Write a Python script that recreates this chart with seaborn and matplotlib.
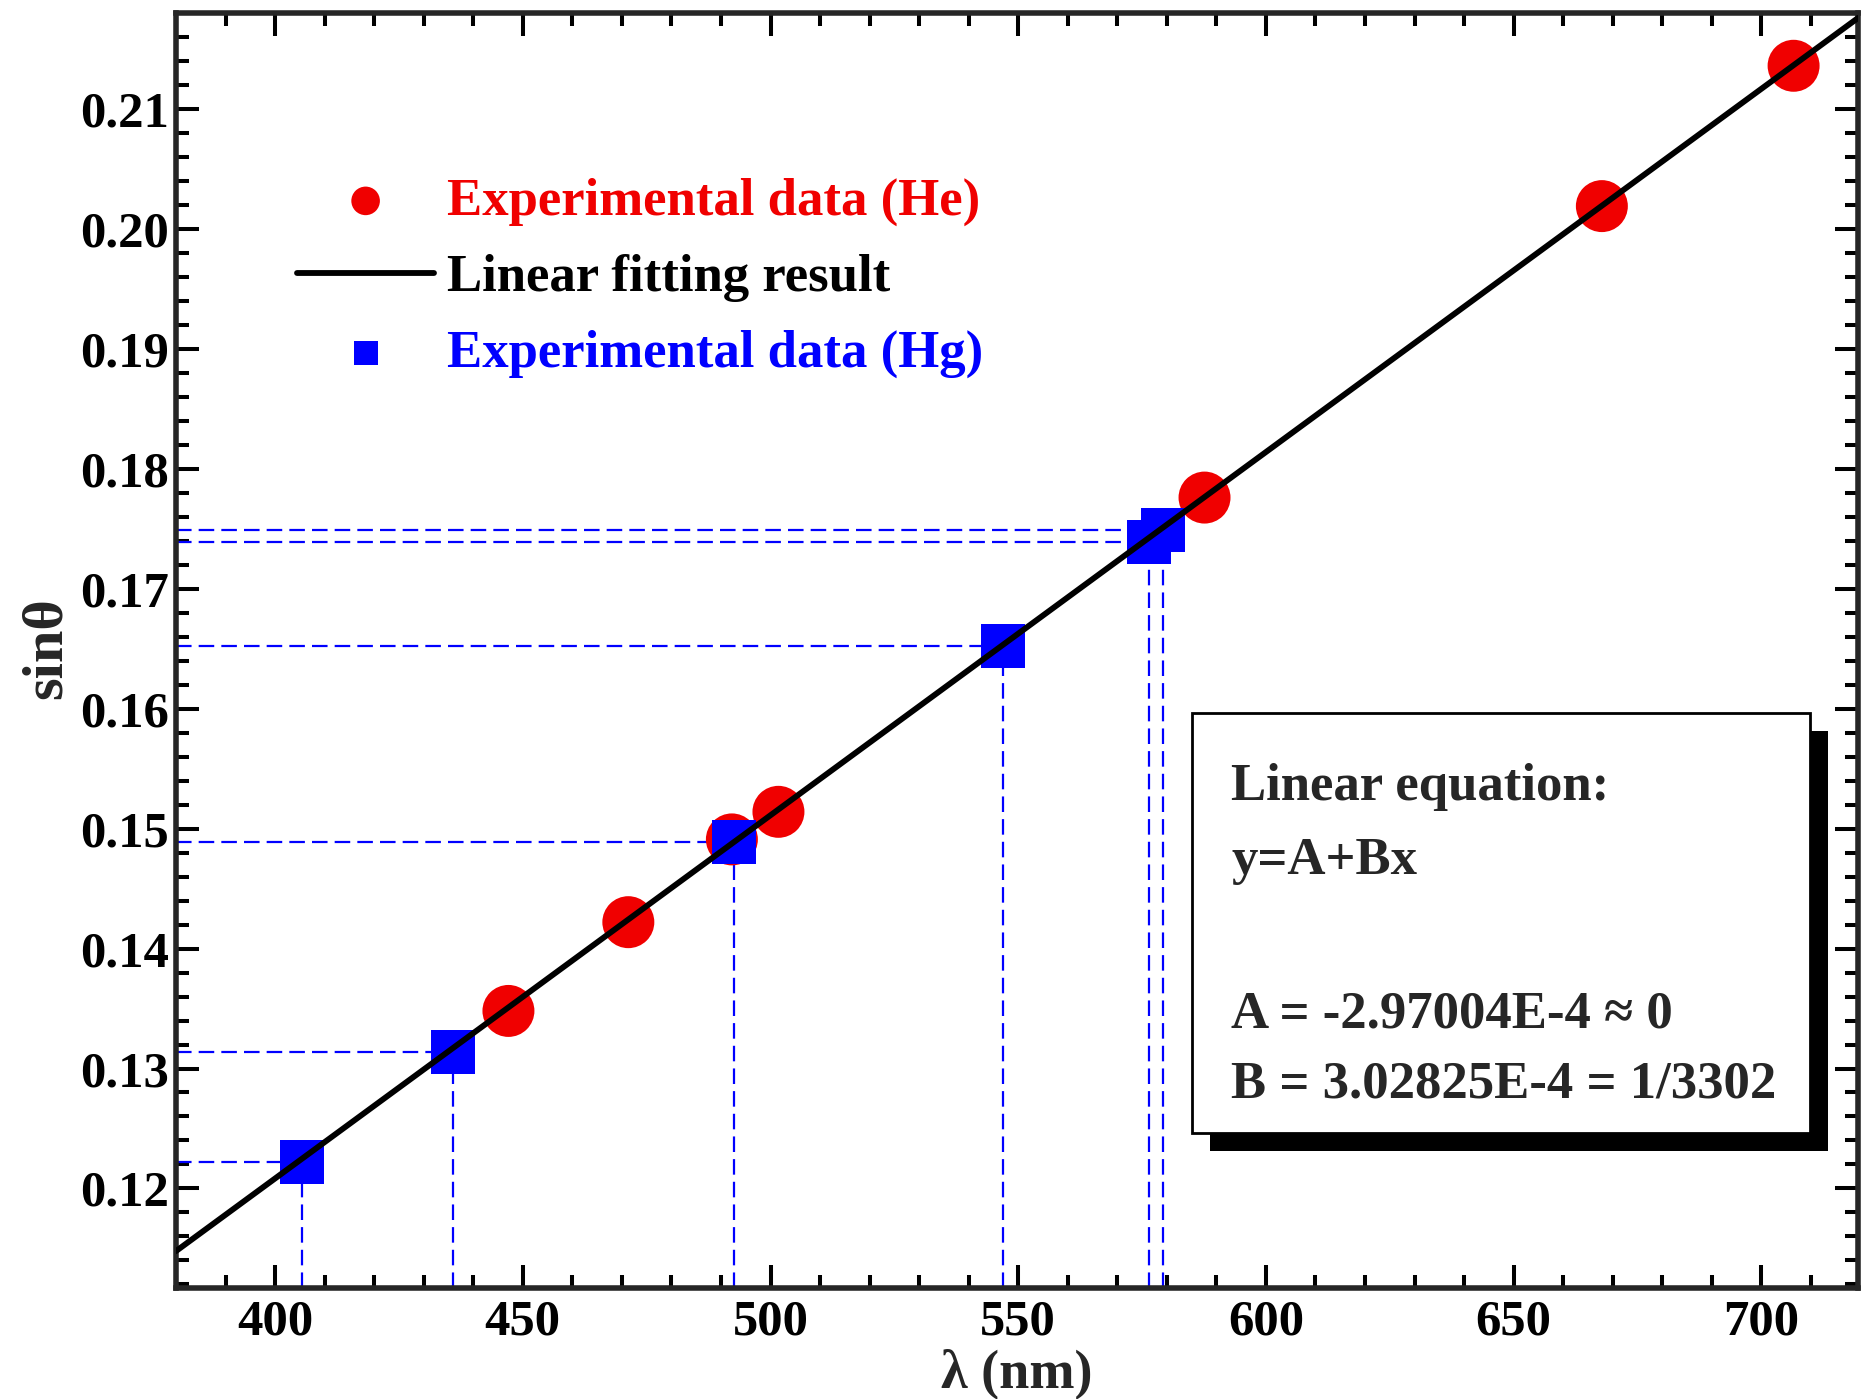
import numpy as np
import pandas as pd
import matplotlib.pyplot as plt
import seaborn as sns
from matplotlib.patches import Rectangle

# He lines
he_wavelength = [447.1, 471.3, 492.2, 501.6, 587.6, 667.8, 706.5]
he_sin = [0.1348, 0.1422, 0.1491, 0.1514, 0.1776, 0.2019, 0.2136]
# Hg lines
hg_wavelength = [405.5, 436.0, 492.6, 547.0, 576.4, 579.3]
hg_sin = [0.1222, 0.1314, 0.1489, 0.1652, 0.1739, 0.1749]

# linear fit  y = A + Bx
fit_A = -2.97004e-4
fit_B = 3.02825e-4

x_lim = (380, 719.5)
y_lim = (0.1117, 0.218)
x_ticks = [400, 450, 500, 550, 600, 650, 700]
y_ticks = [0.12, 0.13, 0.14, 0.15, 0.16, 0.17, 0.18, 0.19, 0.20, 0.21]

eq_lines = ["Linear equation:", "y=A+Bx", "A = -2.97004E-4 \u2248 0", "B = 3.02825E-4 = 1/3302"]

sns.set_style("ticks")
plt.rcParams['font.family'] = ['Liberation Serif', 'DejaVu Serif']
plt.rcParams['font.weight'] = 'bold'

W, H = 1864, 1399
fig = plt.figure(figsize=(W / 100, H / 100), dpi=100)
ax = fig.add_axes([176 / W, 1 - 1288 / H, (1858 - 176) / W, (1288 - 13) / H])

# dashed guide lines for Hg points
for xv, yv in zip(hg_wavelength, hg_sin):
    ax.plot([x_lim[0], xv], [yv, yv], color='#0000ff', lw=1.6, dashes=(7, 3.2), zorder=2)
    ax.plot([xv, xv], [y_lim[0], yv], color='#0000ff', lw=1.6, dashes=(7, 3.2), zorder=2)

he_df = pd.DataFrame({"wl": he_wavelength, "s": he_sin})
hg_df = pd.DataFrame({"wl": hg_wavelength, "s": hg_sin})
sns.scatterplot(data=he_df, x="wl", y="s", marker='o', s=1400, color='#f00000',
                edgecolor='none', label='Experimental data (He)', zorder=3, ax=ax)
sns.scatterplot(data=hg_df, x="wl", y="s", marker='s', s=1000, color='#0000ff',
                edgecolor='none', label='Experimental data (Hg)', zorder=4, ax=ax)

fit_x = np.array(x_lim)
fit_df = pd.DataFrame({"wl": fit_x, "s": fit_A + fit_B * fit_x})
sns.lineplot(data=fit_df, x="wl", y="s", color='black', lw=4.2,
             label='Linear fitting result', zorder=5, ax=ax)

ax.set_xlim(x_lim)
ax.set_ylim(y_lim)
ax.set_xticks(x_ticks)
ax.set_yticks(y_ticks)
ax.set_xticklabels([str(t) for t in x_ticks])
ax.set_yticklabels([f"{t:.2f}" for t in y_ticks])
ax.set_xticks(np.arange(380, 720, 10), minor=True)
ax.set_yticks(np.arange(0.112, 0.2181, 0.002), minor=True)

for sp in ax.spines.values():
    sp.set_linewidth(4)
    sp.set_visible(True)
ax.tick_params(which='both', direction='in', top=True, right=True, width=2.9, colors='black')
ax.tick_params(which='major', length=16.5, labelsize=36.5)
ax.tick_params(axis='x', which='major', pad=8)
ax.tick_params(axis='y', which='major', pad=5)
ax.tick_params(which='minor', length=9.4)
for lab in ax.get_xticklabels() + ax.get_yticklabels():
    lab.set_fontweight('bold')

ax.set_xlabel("\u03bb (nm)", fontsize=39, fontweight='bold', va='baseline')
ax.xaxis.set_label_coords(0.5, -0.0775)
ax.set_ylabel("sin\u03b8", fontsize=42, fontweight='bold', va='center')
ax.yaxis.set_label_coords(-0.077, 0.502)

handles, labels = ax.get_legend_handles_labels()
order = [labels.index('Experimental data (He)'), labels.index('Linear fitting result'),
         labels.index('Experimental data (Hg)')]
leg = ax.legend([handles[i] for i in order], [labels[i] for i in order],
                loc='center left', bbox_to_anchor=(297 / W, 1 - 278 / H),
                bbox_transform=fig.transFigure, frameon=False, fontsize=38,
                markerscale=0.55, handlelength=2.6, handletextpad=0.25,
                borderpad=0, borderaxespad=0, labelspacing=0.53)
for txt, c in zip(leg.get_texts(), ['#f00000', 'black', '#0000ff']):
    txt.set_color(c)
    txt.set_fontweight('bold')

# equation box with shadow
bx0, by0, bx1, by1 = 1192, 713, 1810, 1133
off = 18
fig.add_artist(Rectangle(((bx0 + off) / W, 1 - (by1 + off) / H), (bx1 - bx0) / W, (by1 - by0) / H,
                         transform=fig.transFigure, facecolor='black', edgecolor='none', zorder=6))
fig.add_artist(Rectangle((bx0 / W, 1 - by1 / H), (bx1 - bx0) / W, (by1 - by0) / H,
                         transform=fig.transFigure, facecolor='white', edgecolor='black', lw=2, zorder=7))
for line, yc in zip(eq_lines, [787, 861, 1015, 1085]):
    fig.text(1231 / W, 1 - yc / H, line, fontsize=38, fontweight='bold', va='center', ha='left', zorder=8)

fig.savefig("out.png", dpi=100)
